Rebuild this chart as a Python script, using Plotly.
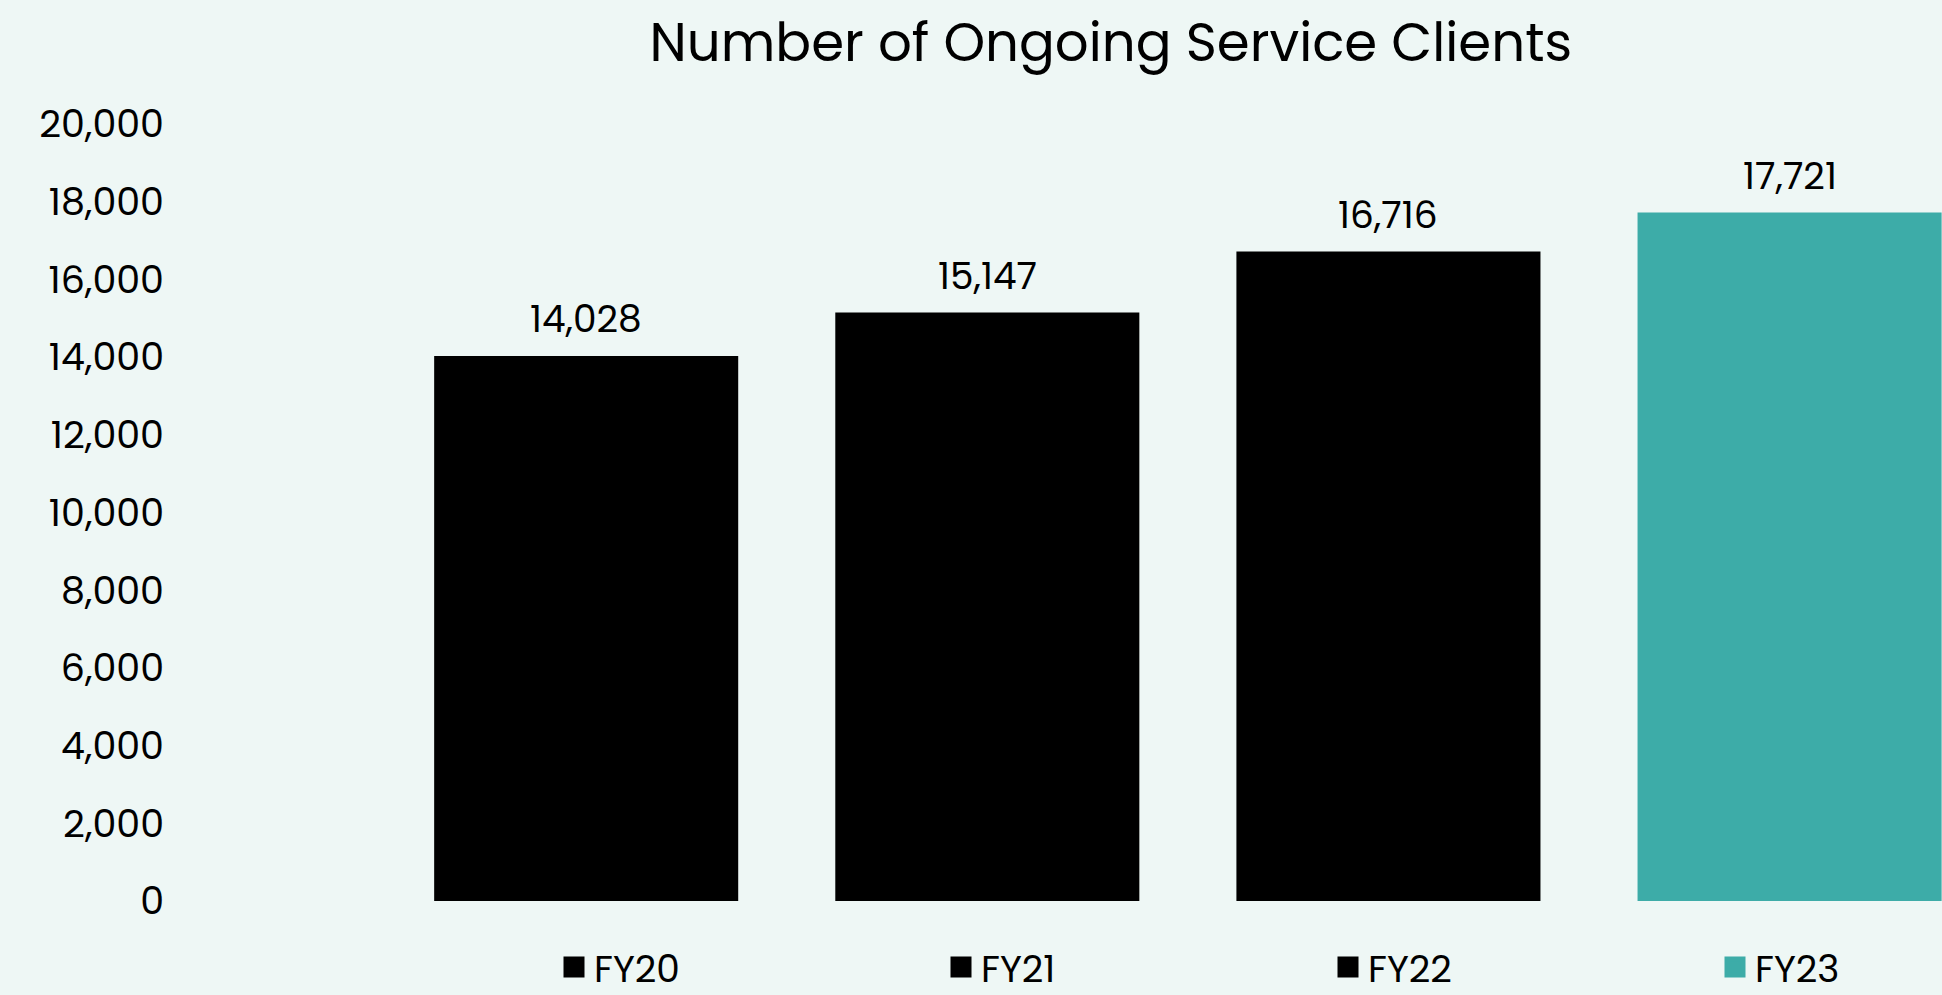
import plotly.graph_objects as go

categories = ["FY20", "FY21", "FY22", "FY23"]
clients = [14028, 15147, 16716, 17721]
bar_colors = ["#000000", "#000000", "#000000", "#3DACA8"]
y_ticks = list(range(0, 20001, 2000))

title_text = "Number of Ongoing Service Clients"
FONT = "Poppins, Open Sans, sans-serif"
BG = "#EEF7F5"

fig = go.Figure()
for cat, val, col in zip(categories, clients, bar_colors):
    fig.add_trace(go.Bar(x=[cat], y=[val], marker=dict(color=col, line=dict(width=0)),
                         width=0.758, showlegend=False, hoverinfo="x+y"))
# legend entries
for cat, col in zip(categories, bar_colors):
    fig.add_trace(go.Scatter(x=[None], y=[None], mode="markers", name=cat,
                             marker=dict(symbol="square", size=16, color=col,
                                         line=dict(width=5, color=col))))

for cat, val in zip(categories, clients):
    fig.add_annotation(x=cat, y=val, text=f"{val:,}", showarrow=False,
                       yanchor="bottom", yshift=9,
                       font=dict(family=FONT, size=37.5, color="#000000"))

fig.update_layout(
    width=1942, height=995,
    paper_bgcolor=BG, plot_bgcolor=BG,
    barmode="overlay",
    margin=dict(l=165, r=0, t=124, b=94),
    title=dict(text=title_text, x=0.572, xanchor="center", y=1 - 42 / 995, yanchor="middle",
               xref="container", yref="container",
               font=dict(family=FONT, size=53, color="#000000")),
    xaxis=dict(categoryorder="array", categoryarray=categories, range=[-1.05, 3.38],
               showticklabels=False, showgrid=False, zeroline=False, showline=False, ticks=""),
    yaxis=dict(range=[0, 20000], tickvals=y_ticks, tickformat=",", showgrid=False,
               zeroline=False, showline=False, ticks="",
               tickfont=dict(family=FONT, size=38, color="#000000")),
    legend=dict(orientation="h", xref="container", yref="container",
                x=554 / 1942, xanchor="left", y=1 - 967 / 995, yanchor="middle",
                entrywidth=342, entrywidthmode="pixels", bgcolor="rgba(0,0,0,0)",
                font=dict(family=FONT, size=37.5, color="#000000")),
    showlegend=True,
)

fig.write_html("out.html")
